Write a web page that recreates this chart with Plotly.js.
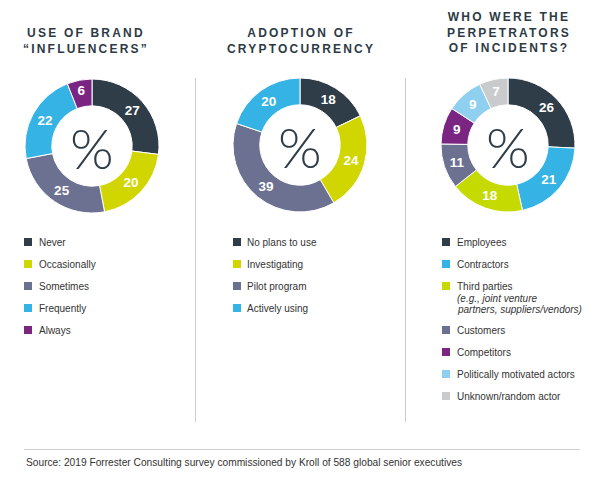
<!DOCTYPE html>
<html>
<head>
<meta charset="utf-8">
<script src="https://cdn.plot.ly/plotly-3.0.1.min.js"></script>
<style>
html,body{margin:0;padding:0;background:#fff;}
#chart{width:600px;height:482px;}
</style>
</head>
<body>
<div id="chart"></div>
<script>
// ---- Data ----
const influencerLabels = ["Never", "Occasionally", "Sometimes", "Frequently", "Always"];
const influencerValues = [27, 20, 25, 22, 6];
const influencerColors = ["#2f3d48", "#d2d600", "#6d7191", "#34b3e4", "#7a2582"];

const cryptoLabels = ["No plans to use", "Investigating", "Pilot program", "Actively using"];
const cryptoValues = [18, 24, 39, 20];
const cryptoColors = ["#2f3d48", "#d2d600", "#6d7191", "#34b3e4"];

const perpLabels = ["Employees", "Contractors", "Third parties", "Customers", "Competitors", "Politically motivated actors", "Unknown/random actor"];
const perpSubLabels = ["", "", "(e.g., joint venture|partners, suppliers/vendors)", "", "", "", ""];
const perpValues = [26, 21, 18, 11, 9, 9, 7];
const perpColors = ["#2f3d48", "#34b3e4", "#c5da00", "#6d7191", "#7a2582", "#8fd0f0", "#c9cbcc"];

const titles = [
  "USE OF BRAND<br>“INFLUENCERS”",
  "ADOPTION OF<br>CRYPTOCURRENCY",
  "WHO WERE THE<br>PERPETRATORS<br>OF INCIDENTS?"
];
const sourceText = "Source: 2019 Forrester Consulting survey commissioned by Kroll of 588 global senior executives";

// ---- Layout helpers ----
const W = 600, H = 482;
const px = x => x / W;
const py = y => 1 - y / H;

const panels = [
  {labels: influencerLabels, values: influencerValues, colors: influencerColors, sub: null,
   cx: 92, cy: 146, sqX: 24, txX: 37, titleX: 86, titleTop: 24},
  {labels: cryptoLabels, values: cryptoValues, colors: cryptoColors, sub: null,
   cx: 300, cy: 145, sqX: 233, txX: 245, titleX: 301, titleTop: 24},
  {labels: perpLabels, values: perpValues, colors: perpColors, sub: perpSubLabels,
   cx: 508, cy: 145, sqX: 442, txX: 455, titleX: 509, titleTop: 8}
];
const R = 67;

const data = [];
const annotations = [];
const shapes = [];
const fontMain = "Liberation Sans, Arial, sans-serif";

panels.forEach((p, i) => {
  data.push({
    type: "pie",
    values: p.values,
    labels: p.labels,
    text: p.values.map(String),
    textinfo: "text",
    textposition: "inside",
    insidetextorientation: "horizontal",
    textfont: {family: fontMain, size: 13.5, color: "#ffffff", weight: "bold"},
    hole: 0.6,
    sort: false,
    direction: "clockwise",
    rotation: 0,
    marker: {colors: p.colors, line: {color: "#ffffff", width: 1}},
    domain: {x: [px(p.cx - R), px(p.cx + R)], y: [py(p.cy + R), py(p.cy - R)]},
    hoverinfo: "label+value"
  });
  // center percent sign
  annotations.push({
    xref: "paper", yref: "paper", x: px(p.cx), y: py(p.cy + 1),
    text: "%", showarrow: false, xanchor: "center", yanchor: "middle",
    font: {family: "Lato, Roboto, sans-serif", size: 56, color: "#2f3d48", weight: 300}
  });
  // title
  annotations.push({
    xref: "paper", yref: "paper", x: px(p.titleX), y: py(p.titleTop),
    text: '<span style="letter-spacing:2.2px">' + titles[i].split("<br>").join('</span><br><span style="letter-spacing:2.2px">') + '</span>',
    showarrow: false, xanchor: "center", yanchor: "top", align: "center",
    font: {family: fontMain, size: 12, color: "#2d3a45", weight: "bold"}
  });
  // legend
  let y = 242;
  p.labels.forEach((lab, k) => {
    shapes.push({
      type: "rect", xref: "paper", yref: "paper",
      x0: px(p.sqX), x1: px(p.sqX + 8), y0: py(y + 4), y1: py(y - 4),
      fillcolor: p.colors[k], line: {width: 0}
    });
    annotations.push({
      xref: "paper", yref: "paper", x: px(p.txX), y: py(y),
      text: lab, showarrow: false, xanchor: "left", yanchor: "middle",
      font: {family: fontMain, size: 10, color: "#333333"}
    });
    if (p.sub && p.sub[k]) {
      const lines = p.sub[k].split("|");
      lines.forEach((ln, j) => {
        annotations.push({
          xref: "paper", yref: "paper", x: px(p.txX), y: py(y + 12 + 11 * j),
          text: "<i>" + ln + "</i>", showarrow: false, xanchor: "left", yanchor: "middle",
          font: {family: fontMain, size: 10, color: "#333333"}
        });
      });
      y += 22 * 2;
    } else {
      y += 22;
    }
  });
});

// dividers
[195.5, 405.5].forEach(x => {
  shapes.push({type: "line", xref: "paper", yref: "paper",
    x0: px(x), x1: px(x), y0: py(78), y1: py(422),
    line: {color: "#cccccc", width: 1}});
});
shapes.push({type: "line", xref: "paper", yref: "paper",
  x0: px(24), x1: px(580), y0: py(449.5), y1: py(449.5),
  line: {color: "#cccccc", width: 1}});

annotations.push({
  xref: "paper", yref: "paper", x: px(24), y: py(462),
  text: sourceText, showarrow: false, xanchor: "left", yanchor: "middle",
  font: {family: fontMain, size: 10.2, color: "#333333"}
});

const layout = {
  width: W, height: H, autosize: false,
  margin: {l: 0, r: 0, t: 0, b: 0},
  paper_bgcolor: "#ffffff",
  showlegend: false,
  annotations: annotations,
  shapes: shapes
};

Plotly.newPlot("chart", data, layout, {displayModeBar: false, staticPlot: true});
</script>
</body>
</html>
